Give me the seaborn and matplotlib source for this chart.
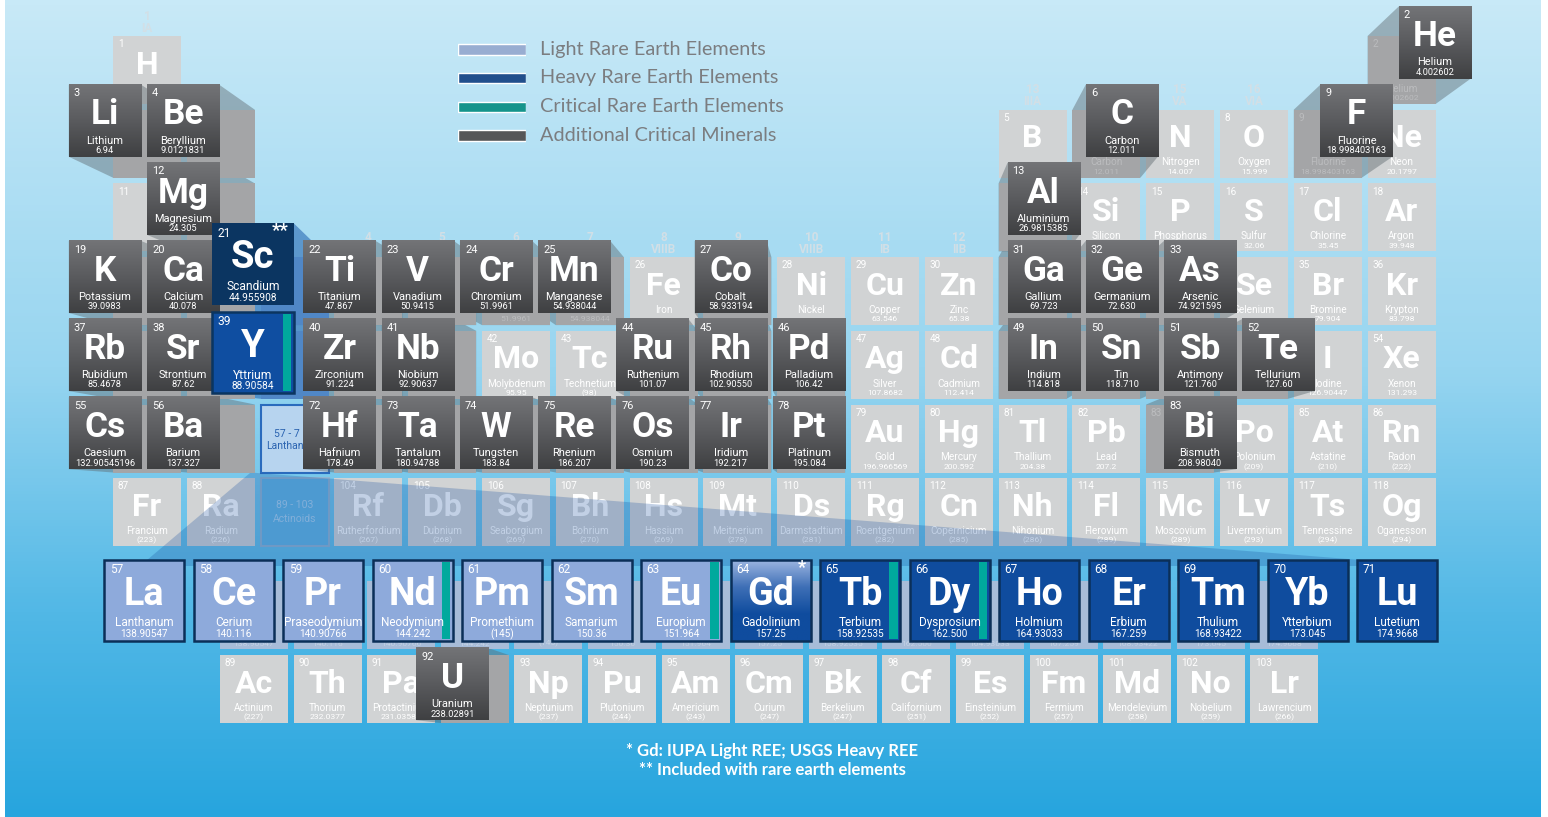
import numpy as np
import matplotlib
matplotlib.use("Agg")
import matplotlib.pyplot as plt
from matplotlib.colors import LinearSegmentedColormap
from matplotlib.patches import Rectangle, Polygon
import seaborn as sns

# ---- data -------------------------------------------------------------
symbols = ["H", "He", "Li", "Be", "B", "C", "N", "O", "F", "Ne", "Na", "Mg", "Al", "Si", "P", "S", "Cl", "Ar",
           "K", "Ca", "Sc", "Ti", "V", "Cr", "Mn", "Fe", "Co", "Ni", "Cu", "Zn", "Ga", "Ge", "As", "Se", "Br", "Kr",
           "Rb", "Sr", "Y", "Zr", "Nb", "Mo", "Tc", "Ru", "Rh", "Pd", "Ag", "Cd", "In", "Sn", "Sb", "Te", "I", "Xe",
           "Cs", "Ba", "La", "Ce", "Pr", "Nd", "Pm", "Sm", "Eu", "Gd", "Tb", "Dy", "Ho", "Er", "Tm", "Yb", "Lu",
           "Hf", "Ta", "W", "Re", "Os", "Ir", "Pt", "Au", "Hg", "Tl", "Pb", "Bi", "Po", "At", "Rn",
           "Fr", "Ra", "Ac", "Th", "Pa", "U", "Np", "Pu", "Am", "Cm", "Bk", "Cf", "Es", "Fm", "Md", "No", "Lr",
           "Rf", "Db", "Sg", "Bh", "Hs", "Mt", "Ds", "Rg", "Cn", "Nh", "Fl", "Mc", "Lv", "Ts", "Og"]
names = ["Hydrogen", "Helium", "Lithium", "Beryllium", "Boron", "Carbon", "Nitrogen", "Oxygen", "Fluorine", "Neon",
         "Sodium", "Magnesium", "Aluminium", "Silicon", "Phosphorus", "Sulfur", "Chlorine", "Argon",
         "Potassium", "Calcium", "Scandium", "Titanium", "Vanadium", "Chromium", "Manganese", "Iron", "Cobalt",
         "Nickel", "Copper", "Zinc", "Gallium", "Germanium", "Arsenic", "Selenium", "Bromine", "Krypton",
         "Rubidium", "Strontium", "Yttrium", "Zirconium", "Niobium", "Molybdenum", "Technetium", "Ruthenium",
         "Rhodium", "Palladium", "Silver", "Cadmium", "Indium", "Tin", "Antimony", "Tellurium", "Iodine", "Xenon",
         "Caesium", "Barium", "Lanthanum", "Cerium", "Praseodymium", "Neodymium", "Promethium", "Samarium",
         "Europium", "Gadolinium", "Terbium", "Dysprosium", "Holmium", "Erbium", "Thulium", "Ytterbium", "Lutetium",
         "Hafnium", "Tantalum", "Tungsten", "Rhenium", "Osmium", "Iridium", "Platinum", "Gold", "Mercury",
         "Thallium", "Lead", "Bismuth", "Polonium", "Astatine", "Radon",
         "Francium", "Radium", "Actinium", "Thorium", "Protactinium", "Uranium", "Neptunium", "Plutonium",
         "Americium", "Curium", "Berkelium", "Californium", "Einsteinium", "Fermium", "Mendelevium", "Nobelium",
         "Lawrencium", "Rutherfordium", "Dubnium", "Seaborgium", "Bohrium", "Hassium", "Meitnerium",
         "Darmstadtium", "Roentgenium", "Copernicium", "Nihonium", "Flerovium", "Moscovium", "Livermorium",
         "Tennessine", "Oganesson"]
masses = ["1.008", "4.002602", "6.94", "9.0121831", "10.81", "12.011", "14.007", "15.999", "18.998403163",
          "20.1797", "22.98976928", "24.305", "26.9815385", "28.085", "30.973761998", "32.06", "35.45", "39.948",
          "39.0983", "40.078", "44.955908", "47.867", "50.9415", "51.9961", "54.938044", "55.845", "58.933194",
          "58.6934", "63.546", "65.38", "69.723", "72.630", "74.921595", "78.971", "79.904", "83.798",
          "85.4678", "87.62", "88.90584", "91.224", "92.90637", "95.95", "(98)", "101.07", "102.90550", "106.42",
          "107.8682", "112.414", "114.818", "118.710", "121.760", "127.60", "126.90447", "131.293",
          "132.90545196", "137.327", "138.90547", "140.116", "140.90766", "144.242", "(145)", "150.36", "151.964",
          "157.25", "158.92535", "162.500", "164.93033", "167.259", "168.93422", "173.045", "174.9668",
          "178.49", "180.94788", "183.84", "186.207", "190.23", "192.217", "195.084", "196.966569", "200.592",
          "204.38", "207.2", "208.98040", "(209)", "(210)", "(222)",
          "(223)", "(226)", "(227)", "232.0377", "231.03588", "238.02891", "(237)", "(244)", "(243)", "(247)",
          "(247)", "(251)", "(252)", "(257)", "(258)", "(259)", "(266)", "(267)", "(268)", "(269)", "(270)",
          "(269)", "(278)", "(281)", "(282)", "(285)", "(286)", "(289)", "(289)", "(293)", "(294)", "(294)"]

critical_minerals = [2, 3, 4, 6, 9, 12, 13, 19, 20, 22, 23, 24, 25, 27, 31, 32, 33, 37, 38, 40, 41,
                     44, 45, 46, 49, 50, 51, 52, 55, 56, 72, 73, 74, 75, 76, 77, 78, 83, 92]
light_ree = [57, 58, 59, 60, 61, 62, 63]
mixed_ree = [64]
heavy_ree = [39, 65, 66, 67, 68, 69, 70, 71]
included_ree = [21]
critical_ree = [39, 60, 63, 65, 66]

group_numbers = list(range(1, 19))
group_roman = ["IA", "IIA", "IIIB", "IVB", "VB", "VIB", "VIIB", "VIIIB", "VIIIB", "VIIIB",
               "IB", "IIB", "IIIA", "IVA", "VA", "VIA", "VIIA", "VIIIA"]

legend_labels = ["Light Rare Earth Elements", "Heavy Rare Earth Elements",
                 "Critical Rare Earth Elements", "Additional Critical Minerals"]
legend_colors = ["#8eaadb", "#0f4c9e", "#00a99d", "#555658"]
footnotes = ["* Gd: IUPA Light REE; USGS Heavy REE", "** Included with rare earth elements"]

# ---- layout -----------------------------------------------------------
W, H = 1548, 817
COL0, COL_STEP, ROW0, ROW_STEP, CELL = 113, 73.8, 36, 73.7, 68
ACT_X0, ACT_STEP, ACT_Y = 220, 73.6, 655
LAN_X0, LAN_STEP, LAN_Y, LAN_W, LAN_H = 104, 89.5, 560, 80, 81

LIGHT = "#d1d3d4"
TEAL = "#00a99d"

sns.set_theme(style="white")
plt.rcParams["font.family"] = ["Roboto", "DejaVu Sans"]

fig = plt.figure(figsize=(W / 100, H / 100), dpi=100)
ax = fig.add_axes([0, 0, 1, 1])

bg = LinearSegmentedColormap.from_list("bg", [(0, "#c8e9f7"), (0.45, "#97d5f0"),
                                              (0.75, "#52b8e6"), (1, "#27a5de")])
ax.imshow(np.linspace(0, 1, 256).reshape(-1, 1), cmap=bg, aspect="auto",
          extent=(5, W - 7, H, 0), origin="upper", zorder=0, interpolation="bilinear")

dark_cmap = LinearSegmentedColormap.from_list("dk", ["#737477", "#5a5b5e", "#3f4042"])
gd_cmap = LinearSegmentedColormap.from_list("gd", ["#9ab4e0", "#3e6fb6", "#0f4c9e", "#0f4c9e"])


def grid_pos(z):
    if z <= 2:
        return (1 if z == 1 else 18), 1
    if z <= 10:
        return (z - 2 if z <= 4 else z + 8), 2
    if z <= 18:
        return (z - 10 if z <= 12 else z), 3
    if z <= 36:
        return z - 18, 4
    if z <= 54:
        return z - 36, 5
    if z <= 86:
        return (z - 54 if z <= 56 else z - 68), 6
    return (z - 86 if z <= 88 else z - 100), 7


def base_rect(z):
    if 57 <= z <= 71:
        return ACT_X0 + (z - 57) * ACT_STEP, ACT_Y - ROW_STEP, CELL, CELL
    if 89 <= z <= 103:
        return ACT_X0 + (z - 89) * ACT_STEP, ACT_Y, CELL, CELL
    g, p = grid_pos(z)
    return COL0 + (g - 1) * COL_STEP, ROW0 + (p - 1) * ROW_STEP, CELL, CELL


def pop_rect(r, kx, ky, px, py, s):
    x0, y0, w, h = r
    cx, cy = x0 + w / 2, y0 + h / 2
    cx, cy = cx + (cx - px) * kx, cy + (cy - py) * ky
    return cx - w * s / 2, cy - h * s / 2, w * s, h * s


def hull(pts):
    pts = sorted(set(pts))
    def cross(o, a, b):
        return (a[0] - o[0]) * (b[1] - o[1]) - (a[1] - o[1]) * (b[0] - o[0])
    lo, up = [], []
    for p in pts:
        while len(lo) >= 2 and cross(lo[-2], lo[-1], p) <= 0:
            lo.pop()
        lo.append(p)
    for p in reversed(pts):
        while len(up) >= 2 and cross(up[-2], up[-1], p) <= 0:
            up.pop()
        up.append(p)
    return lo[:-1] + up[:-1]


def corners(r):
    x0, y0, w, h = r
    return [(x0, y0), (x0 + w, y0), (x0, y0 + h), (x0 + w, y0 + h)]


popped = sorted(set(critical_minerals) | set(included_ree) | {39})
lanthanides = list(range(57, 72))


def popped_geometry(z):
    r = base_rect(z)
    if z in included_ree or z == 39:
        return pop_rect(r, 0.075, 0.2, 850, 426, 1.2)
    if z == 92:
        return pop_rect(r, 0.06, 0.06, 850, 770, 1.06)
    return pop_rect(r, 0.06, 0.06, 850, 527, 1.06)


pop_rects = {z: popped_geometry(z) for z in popped}


def hidden(x, y, own=None):
    # text anchor covered by a raised cell -> not visible in the picture
    for z, (x0, y0, w, h) in pop_rects.items():
        if z == own:
            continue
        if x0 - 2 <= x <= x0 + w + 2 and y0 - 2 <= y <= y0 + h + 2:
            return True
    return False


def draw_cell(r, z, fill, tc="white", zo=2, cmap=None, edge=None, stripe=False, star=None, ts=None,
              check=False):
    x0, y0, w, h = r
    s = ts if ts else w / CELL
    if cmap is not None:
        ax.imshow(np.linspace(0, 1, 64).reshape(-1, 1), cmap=cmap, aspect="auto",
                  extent=(x0, x0 + w, y0 + h, y0), origin="upper", zorder=zo, interpolation="bilinear")
    else:
        ax.add_patch(Rectangle((x0, y0), w, h, fc=fill, ec="none", zorder=zo))
    if edge:
        ax.add_patch(Rectangle((x0, y0), w, h, fc="none", ec=edge, lw=1.8, zorder=zo + 0.05))
    if stripe:
        ax.add_patch(Rectangle((x0 + w - 9 * s, y0 + 2), 7 * s, h - 4, fc=TEAL, ec="none", zorder=zo + 0.06))
    i = z - 1
    items = [(x0 + 0.07 * w, y0 + 0.12 * h, str(z), 7.2, "normal", "left"),
             (x0 + w / 2, y0 + 0.42 * h, symbols[i], 23, "bold", "center"),
             (x0 + w / 2, y0 + 0.775 * h, names[i], 7.2, "normal", "center"),
             (x0 + w / 2, y0 + 0.915 * h, masses[i], 6.1, "normal", "center")]
    for tx, ty, t, fs, fw, ha in items:
        if check and hidden(tx + (8 if ha == "left" else 0), ty):
            continue
        ax.text(tx, ty, t, color=tc, fontsize=fs * s, fontweight=fw, ha=ha, va="center",
                zorder=zo + 0.1, clip_on=True)
    if star:
        ax.text(x0 + w - 5, y0 + 0.1 * h, star, color="white", fontsize=11 * s, fontweight="bold",
                ha="right", va="center", zorder=zo + 0.1)


# plain base cells
for z in range(1, 119):
    if z in popped or z in lanthanides:
        continue
    draw_cell(base_rect(z), z, LIGHT, zo=2, check=True)

# faint base row of lanthanides (behind enlarged row)
for z in lanthanides:
    x0, y0, w, h = base_rect(z)
    ax.add_patch(Rectangle((x0, y0), w, h, fc="#a7bcd8", ec="none", zorder=5))
    ax.text(x0 + w / 2, y0 + 0.915 * h, masses[z - 1], color="#c2d0e3", fontsize=6.1,
            ha="center", va="center", zorder=5.1)

# placeholders
lx, ly = COL0 + 2 * COL_STEP, ROW0 + 5 * ROW_STEP
ax.add_patch(Rectangle((lx, ly), CELL, CELL, fc="#b7d4ef", ec="#2a6bbd", lw=1.5, zorder=2))
ax.text(lx + CELL / 2 - 8, ly + CELL / 2, "57 - 7", color="#2a63b0", fontsize=7.5,
        ha="center", va="bottom", zorder=2.1)
ax.text(lx + 6, ly + CELL / 2 + 2, "Lanthan", color="#2a63b0", fontsize=7.5,
        ha="left", va="top", zorder=2.1)
ay = ROW0 + 6 * ROW_STEP
ax.add_patch(Rectangle((lx, ay), CELL, CELL, fc="#62b5e4", ec="#8fb4d2", lw=1.5, zorder=2))
ax.text(lx + CELL / 2, ay + CELL / 2, "89 - 103\nActinoids", color="#a9d2ee", fontsize=7.5,
        ha="center", va="center", linespacing=1.5, zorder=2.1)

# group headings
for g, rn in zip(group_numbers, group_roman):
    tops = [base_rect(z)[1] for z in range(1, 119)
            if not (57 <= z <= 71 or 89 <= z <= 103) and grid_pos(z)[0] == g]
    x = COL0 + (g - 1) * COL_STEP + CELL / 2
    for dy, t in ((-20, str(g)), (-8, rn)):
        if hidden(x, min(tops) + dy):
            continue
        ax.text(x, min(tops) + dy, t, color="#d2dfe6", fontsize=8.5, fontweight="bold",
                ha="center", va="center", zorder=1.5)

# zoom wedge from the lanthanoid slot to the enlarged row
wedge = [(lx - 10, ly + CELL), (lx + CELL, ly + CELL + 6), (LAN_X0 + 14 * LAN_STEP + LAN_W, LAN_Y + 6),
         (140, LAN_Y + 6)]
ax.add_patch(Polygon(wedge, closed=True, fc="#144d9e", ec="none", alpha=0.26, zorder=3))

# popped (extruded) cells
for z in popped:
    r = base_rect(z)
    pr = pop_rects[z]
    if z in included_ree or z == 39:
        side, side_a, base_fc, base_tc = "#1f5fae", 0.55, "#5087c6", "#79a3d4"
    else:
        side, side_a, base_fc, base_tc = "#5f6a70", 0.45, "#a4a5a7", "#bbbcbe"
    ax.add_patch(Polygon(hull(corners(r) + corners(pr)), closed=True, fc=side, ec="none",
                         alpha=side_a, zorder=3.4))
    draw_cell(r, z, base_fc, tc=base_tc, zo=3.6, check=True)
    if z in included_ree:
        draw_cell(pr, z, "#0b3561", zo=7, star="**")
    elif z == 39:
        draw_cell(pr, z, "#0f4ea1", zo=7, edge="#0b3560", stripe=True)
    else:
        draw_cell(pr, z, None, zo=7, cmap=dark_cmap, ts=1.1)

# enlarged lanthanide row
for z in lanthanides:
    r = (LAN_X0 + (z - 57) * LAN_STEP, LAN_Y, LAN_W, LAN_H)
    st = z in critical_ree
    if z in light_ree:
        draw_cell(r, z, "#8eaadb", zo=8, edge="#0b2f58", stripe=st)
    elif z in mixed_ree:
        draw_cell(r, z, None, zo=8, cmap=gd_cmap, edge="#0b2f58", star="*")
    else:
        draw_cell(r, z, "#0f4c9e", zo=8, edge="#0b2f58", stripe=st)

# legend (seaborn bars in an inset axes)
lax = fig.add_axes([458 / W, 1 - 150 / H, 68 / W, 115 / H])
sns.barplot(x=[1, 1, 1, 1], y=legend_labels, hue=legend_labels, palette=legend_colors,
            width=0.36, orient="h", legend=False, ax=lax)
lax.set_xlim(0, 1)
lax.axis("off")
for i, lab in enumerate(legend_labels):
    ax.text(540, 49 + i * 28.7, lab, color="#7b7d80", fontsize=14.3, family=["Lato", "DejaVu Sans"],
            fontweight="normal", ha="left", va="center", zorder=9)

for i, ft in enumerate(footnotes):
    ax.text(772, 751 + i * 19, ft, color="white", fontsize=12, family=["Lato", "DejaVu Sans"],
            fontweight="bold", ha="center", va="center", zorder=9)

ax.set_xlim(0, W)
ax.set_ylim(H, 0)
ax.axis("off")
fig.savefig("out.png", dpi=100, facecolor="white")
